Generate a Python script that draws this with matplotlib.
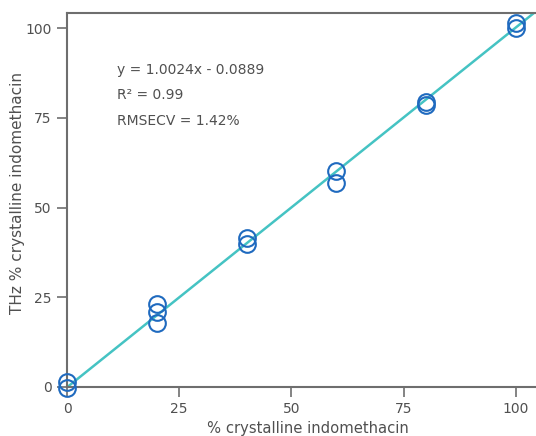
import matplotlib
matplotlib.use("Agg")
import matplotlib.pyplot as plt
import numpy as np

# reference values (% crystalline) and THz predictions
ref_pct = [0, 0, 20, 20, 20, 40, 40, 60, 60, 80, 80, 100, 100]
thz_pct = [1.5, -0.4, 23.0, 20.8, 17.9, 41.5, 39.8, 60.2, 56.8, 79.4, 78.6, 101.5, 99.9]

slope = 1.0024
intercept = -0.0889
ticks = [0, 25, 50, 75, 100]

text_col = "#505050"
plt.rcParams["font.family"] = ["DejaVu Sans"]

fig = plt.figure(figsize=(5.36, 4.36), dpi=100)
ax = fig.add_axes([67 / 536, 1 - 387 / 436, 1 - 67 / 536, (387 - 13) / 436])

# fit line
xs = np.array([0, 104.5])
ax.plot(xs, slope * xs + intercept, color="#45c3c3", lw=1.8, zorder=2)

# measured points
ax.plot(ref_pct, thz_pct, linestyle="none", marker="o", ms=12, mfc="none",
        mec="#1f6abf", mew=1.5, clip_on=False, zorder=3)

ax.set_xlim(0, 104.5)
ax.set_ylim(0, 104.2)
ax.set_xticks(ticks)
ax.set_yticks(ticks)

for side in ["left", "bottom", "top"]:
    ax.spines[side].set_color("#6e6e6e")
    ax.spines[side].set_linewidth(1.5)
ax.spines["right"].set_visible(False)
ax.tick_params(direction="out", length=7, width=1.2, color="#6e6e6e",
               labelsize=10, labelcolor=text_col, pad=4)

ax.set_xlabel("% crystalline indomethacin", fontsize=10.6, color=text_col)
ax.xaxis.set_label_coords(0.514, -34 / 374)
ax.set_ylabel("THz % crystalline indomethacin", fontsize=11, color=text_col)
ax.yaxis.set_label_coords(-42 / 469, 0.52)

ax.text(11.1, 88.3, "y = 1.0024x - 0.0889", fontsize=10, color=text_col, va="center")
ax.text(11.1, 81.3, "R² = 0.99", fontsize=10, color=text_col, va="center")
ax.text(11.1, 74.1, "RMSECV = 1.42%", fontsize=10, color=text_col, va="center")

fig.savefig("out.png", dpi=100)
